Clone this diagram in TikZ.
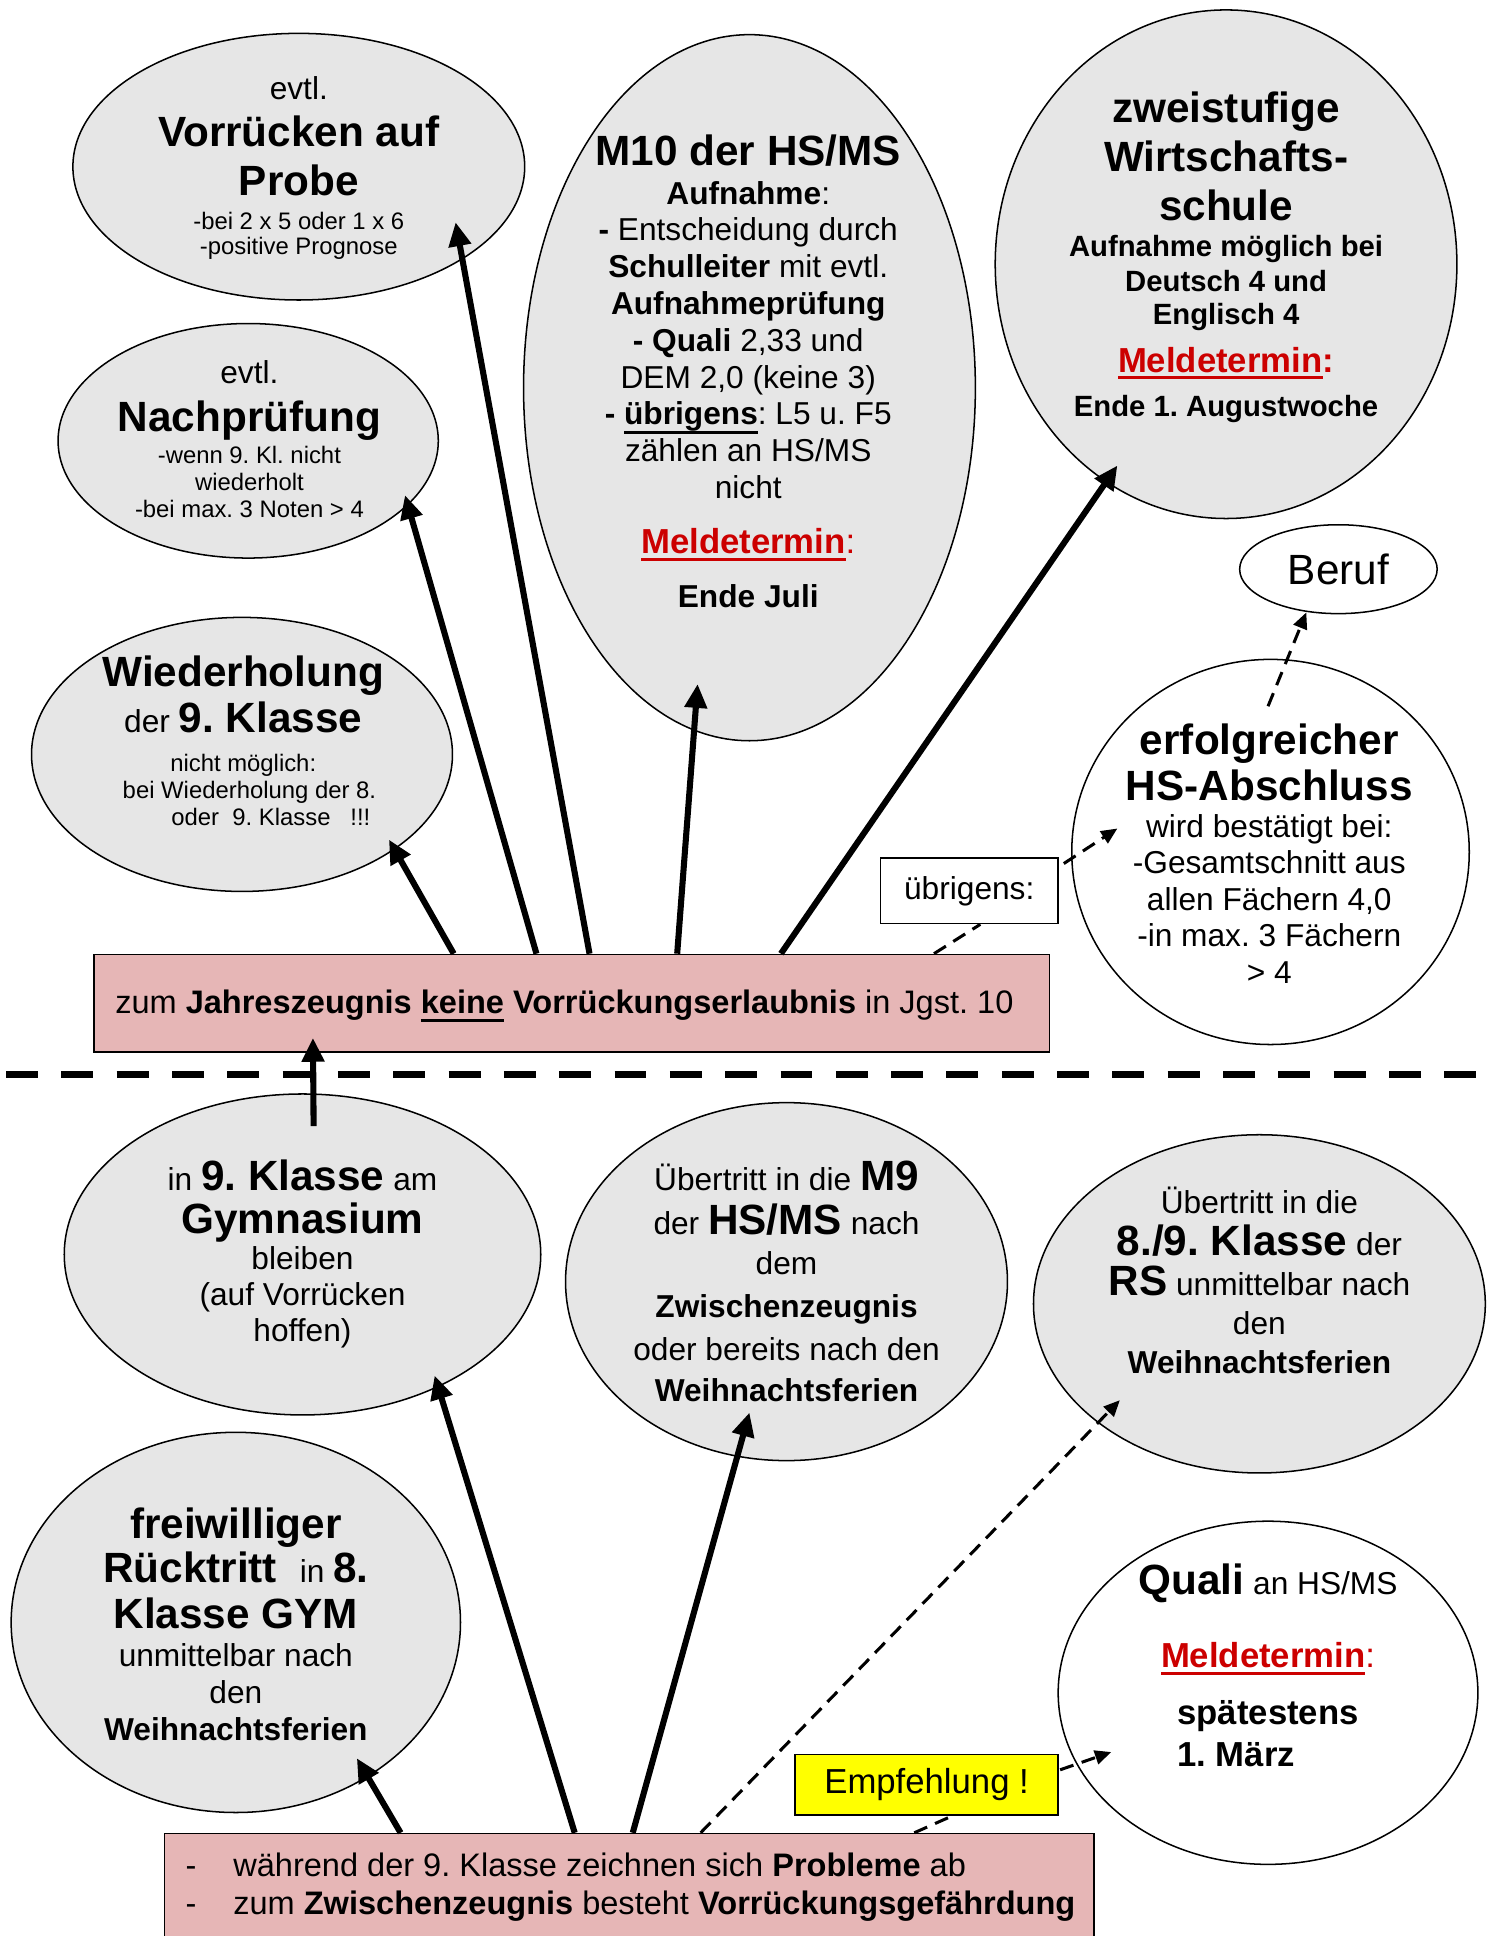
\documentclass[tikz,border=0pt]{standalone}
\usepackage{fontspec}
\setmainfont{Liberation Sans}
\usetikzlibrary{shapes.geometric,arrows.meta,calc}

\definecolor{rosa}{RGB}{230,182,182}
\definecolor{rot}{RGB}{204,0,0}
\definecolor{gelb}{RGB}{255,255,0}
\definecolor{punkt}{RGB}{230,230,230}

\AtBeginDocument{\lineskiplimit=-100pt\relax\frenchspacing}
\newcommand{\gross}{\fontsize{19.5}{0}\selectfont\bfseries}
\newcommand{\klein}{\fontsize{11}{0}\selectfont}
\newcommand{\mittel}{\fontsize{13.5}{0}\selectfont\bfseries}
\newcommand{\ustrich}[3]{\setbox0\hbox{#3}\rlap{\rule[-#1]{\wd0}{#2}}\box0\relax}
\newcommand{\melde}{{\fontsize{16}{0}\selectfont\bfseries\color{rot}\ustrich{3.2pt}{1.4pt}{Meldetermin}}}

\tikzset{
  blase/.style={ellipse, draw, line width=0.7pt, fill=punkt, inner sep=0pt},
  weiss/.style={ellipse, draw, line width=0.7pt, fill=white, inner sep=0pt},
  txt/.style={align=center, inner sep=0pt, anchor=north, font=\fontsize{14.6}{0}\selectfont},
  kasten/.style={draw, line width=0.7pt, inner sep=0pt},
  pfeil/.style={line width=2.8pt, -{Triangle[length=11pt,width=10pt]}},
  strich/.style={line width=1.4pt, dash pattern=on 6.5pt off 4pt},
  strichpfeil/.style={strich, -{Triangle[length=7.5pt,width=6.5pt]}},
  trenn/.style={line width=3.3pt, dash pattern=on 14.7pt off 10.8pt, dash phase=-2.8pt}
}

\begin{document}
\begin{tikzpicture}[x=0.02cm,y=-0.02cm]
\useasboundingbox (0,0) rectangle (1210,1568);

% obere Haelfte
\node[blase, minimum width=7.32cm, minimum height=4.32cm] (probe) at (242,135) {};
\node[blase, minimum width=6.16cm, minimum height=3.8cm] (nach) at (201,357) {};
\node[blase, minimum width=6.82cm, minimum height=4.44cm] (wdh) at (196,611) {};
\node[blase, minimum width=7.32cm, minimum height=11.44cm] (mzehn) at (607,314) {};
\node[blase, minimum width=7.48cm, minimum height=8.24cm] (wirt) at (993,214) {};
\node[weiss, minimum width=3.2cm, minimum height=1.44cm, font=\fontsize{19.5}{22}\selectfont] (beruf) at (1084,461) {Beruf};
\node[weiss, minimum width=6.44cm, minimum height=6.24cm] (hsab) at (1029,690) {};

\node[txt] (probe-t) at (242,62) {evtl.\\[21.5pt]
  {\gross Vorrücken auf}\\[22.7pt]
  {\gross Probe}\\[15.3pt]
  {\klein -bei 2 x 5 oder 1 x 6}\\[11.9pt]
  {\klein -positive Prognose}};
\node[txt] (nach-t) at (202,292) {evtl.\\[22.1pt]
  {\gross Nachprüfung}\\[14.7pt]
  {\klein -wenn 9. Kl. nicht}\\[12.5pt]
  {\klein wiederholt}\\[12.5pt]
  {\klein -bei max. 3 Noten > 4}};
\node[txt] (wdh-t) at (197,531) {{\gross Wiederholung}\\[21pt]
  der {\gross 9. Klasse}\\[18.1pt]
  {\klein nicht möglich:\hspace*{67.5pt}}\\[12.5pt]
  {\klein\hspace*{5.7pt}bei Wiederholung der 8.}\\[12.5pt]
  {\klein\hspace*{25.5pt}oder\ \ 9. Klasse\ \ \ !!!}};
\node[txt] (mzehn-t) at (606,109) {{\gross M10 der HS/MS}\\[18.1pt]
  \textbf{Aufnahme}:\\[16.4pt]
  \textbf{-} Entscheidung durch\\[17pt]
  \textbf{Schulleiter} mit evtl.\\[17pt]
  \textbf{Aufnahmeprüfung}\\[17pt]
  \textbf{- Quali} 2,33 und\\[17pt]
  DEM 2,0 (keine 3)\\[17pt]
  \textbf{- \ustrich{4pt}{1.4pt}{übrigens}}: L5 u. F5\\[17pt]
  zählen an HS/MS\\[17pt]
  nicht\\[25.5pt]
  {\melde}{\fontsize{16}{0}\selectfont\color{rot}:}\\[24.9pt]
  \textbf{Ende Juli}};
\node[txt] (wirt-t) at (993,74) {{\gross zweistufige}\\[22.7pt]
  {\gross Wirtschafts-}\\[22.7pt]
  {\gross schule}\\[16.4pt]
  {\mittel Aufnahme möglich bei}\\[15.9pt]
  {\mittel Deutsch 4 und}\\[15.3pt]
  {\mittel Englisch 4}\\[22.1pt]
  {\melde}{\fontsize{16}{0}\selectfont\bfseries\color{rot}:}\\[20.4pt]
  {\mittel Ende 1. Augustwoche}};
\node[txt] (hsab-t) at (1028,586) {{\gross erfolgreicher}\\[21pt]
  {\gross HS-Abschluss}\\[17pt]
  wird bestätigt bei:\\[17pt]
  -Gesamtschnitt aus\\[17pt]
  allen Fächern 4,0\\[16.4pt]
  -in max. 3 Fächern\\[17pt]
  > 4};

\node[kasten, fill=rosa, minimum width=15.48cm, minimum height=1.58cm] (jz) at (463,812.5) {};
\node[anchor=base west, inner sep=0pt, font=\fontsize{15}{18}\selectfont] (jz-t) at (93,821)
  {zum \textbf{Jahreszeugnis \ustrich{4pt}{1.5pt}{keine} Vorrückungserlaubnis} in Jgst. 10};
\node[kasten, fill=white, minimum width=2.88cm, minimum height=1.06cm, font=\fontsize{14.6}{17}\selectfont] (ubr) at (785,721.5) {übrigens:};

% Trennlinie
\draw[trenn] (0,870) -- (1210,870);

% untere Haelfte
\node[blase, minimum width=7.72cm, minimum height=5.2cm] (gym) at (245,1016) {};
\node[blase, minimum width=7.16cm, minimum height=5.8cm] (mneun) at (637,1038) {};
\node[blase, minimum width=7.32cm, minimum height=5.48cm] (rs) at (1020,1056) {};
\node[blase, minimum width=7.28cm, minimum height=6.16cm] (rueck) at (191,1314) {};
\node[weiss, minimum width=6.8cm, minimum height=5.56cm] (quali) at (1027,1371) {};

\node[txt] (gym-t) at (245,939) {in {\gross 9. Klasse} am\\[19.8pt]
  {\gross Gymnasium}\\[16.4pt]
  bleiben\\[17pt]
  (auf Vorrücken\\[16.4pt]
  hoffen)};
\node[txt] (mneun-t) at (637,940) {Übertritt in die {\gross M9}\\[20.4pt]
  der {\gross HS/MS} nach\\[18.1pt]
  dem\\[19.8pt]
  \textbf{Zwischenzeugnis}\\[19.8pt]
  oder bereits nach den\\[19.3pt]
  \textbf{Weihnachtsferien}};
\node[txt] (rs-t) at (1020,961) {Übertritt in die\\[19.3pt]
  {\gross 8./9. Klasse} der\\[18.7pt]
  {\gross RS} unmittelbar nach\\[17.6pt]
  den\\[18.1pt]
  \textbf{Weihnachtsferien}};
\node[txt] (rueck-t) at (191,1221) {{\gross freiwilliger}\\[20.4pt]
  {\gross Rücktritt}\hspace{10.5pt}in {\gross 8.}\\[21pt]
  {\gross Klasse GYM}\\[17.6pt]
  unmittelbar nach\\[17pt]
  den\\[17pt]
  \textbf{Weihnachtsferien}};
\node[txt] (quali-t) at (1027,1266) {{\gross Quali} an HS/MS\\[34pt]
  {\melde}{\fontsize{16}{0}\selectfont\color{rot}:}\\[26.1pt]
  {\fontsize{16}{0}\selectfont\bfseries spätestens}\\[19.3pt]
  {\fontsize{16}{0}\selectfont\bfseries\rlap{1. März}\phantom{spätestens}}};

\node[kasten, fill=gelb, minimum width=4.26cm, minimum height=0.98cm, font=\fontsize{16}{19}\selectfont] (emp) at (750.5,1445.5) {Empfehlung !};
\node[kasten, fill=rosa, minimum width=15.06cm, minimum height=2.3cm] (pb) at (509.5,1542.5) {};
\node[txt, anchor=north west, align=left, font=\fontsize{15}{0}\selectfont] (pb-t) at (150,1500)
  {-\hspace{17pt}während der 9. Klasse zeichnen sich \textbf{Probleme} ab\\[17.6pt]
   -\hspace{17pt}zum \textbf{Zwischenzeugnis} besteht \textbf{Vorrückungsgefährdung}};

% Pfeile oben
\draw[pfeil] ($(jz.north west)+(292,0)$) -- ($(wdh.center)+(119,69)$);
\draw[pfeil] ($(jz.north west)+(359,0)$) -- ($(nach.center)+(127,44)$);
\draw[pfeil] ($(jz.north west)+(402,0)$) -- ($(probe.center)+(127,45)$);
\draw[pfeil] ($(jz.north west)+(473,0)$) -- ($(mzehn.center)+(-42,240)$);
\draw[pfeil] ($(jz.north west)+(557,0)$) -- ($(wirt.center)+(-88,163)$);
\draw[strich] ($(jz.north west)+(681,0)$) -- ($(ubr.south)+(9,0)$);
\draw[strichpfeil] ($(ubr.north east)+(4,5)$) -- ($(hsab.center)+(-124,-19)$);
\draw[strichpfeil] ($(hsab.center)+(-2,-118)$) -- ($(beruf.center)+(-26,35)$);
\draw[pfeil] ($(gym.center)+(9,-104)$) -- ($(jz.south west)+(178,-12)$);

% Pfeile unten
\draw[pfeil] ($(pb.north west)+(192,0)$) -- ($(rueck.center)+(98,110)$);
\draw[pfeil] ($(pb.north west)+(333,0)$) -- ($(gym.center)+(107,98)$);
\draw[pfeil] ($(pb.north west)+(380,0)$) -- ($(mneun.center)+(-30,106)$);
\draw[strichpfeil] ($(pb.north west)+(435,0)$) -- ($(rs.center)+(-113,78)$);
\draw[strich] ($(pb.north west)+(608,0)$) -- ($(emp.south)+(21,0)$);
\draw[strichpfeil] ($(emp.north east)+(1,13)$) -- ($(quali.center)+(-127,48)$);
\end{tikzpicture}
\end{document}
